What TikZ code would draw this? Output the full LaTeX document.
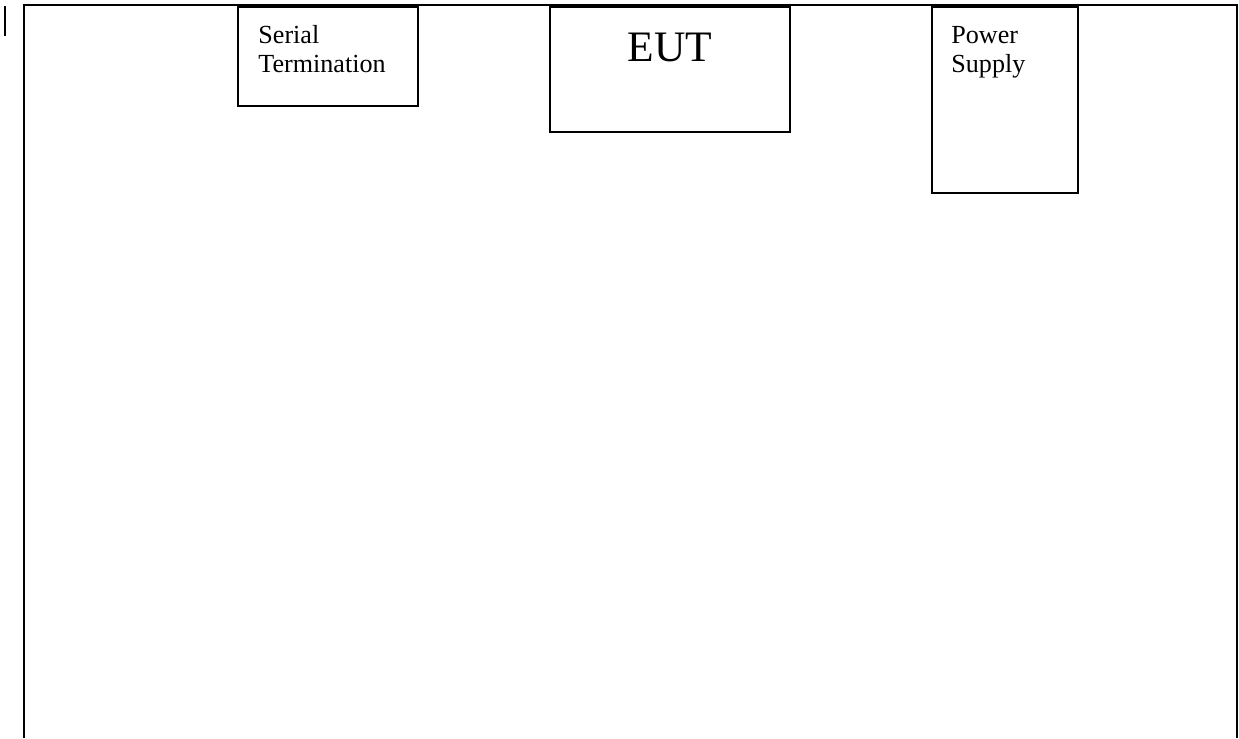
\documentclass[tikz,border=0pt]{standalone}
\usepackage{fontspec}
\setmainfont{Liberation Serif}
\usepackage{tikz}

\begin{document}
\begin{tikzpicture}[
x=0.46pt, y=-0.46pt,
frame/.style={line width=1.2pt},
unit/.style={line width=0.9pt},
smalltext/.style={font=\fontsize{12}{13.4}\selectfont, align=left, inner sep=0pt, anchor=north west},
bigtext/.style={font=\fontsize{20}{22}\selectfont, inner sep=0pt, anchor=base}
]
    % Page area
    \useasboundingbox (0,0) rectangle (1239,738);
    \draw[frame] (24,738) -- (24,5) -- (1237,5) -- (1237,738);
    \draw[line width=0.9pt] (5,6) -- (5,36);

    \draw
    (238,7) coordinate (S1)
    (418,106) coordinate (S2)
    (550,7) coordinate (E1)
    (790,132) coordinate (E2)
    (932,7) coordinate (P1)
    (1078,193) coordinate (P2);

    % Units
    \draw[unit] (S1) rectangle (S2);
    \draw[unit] (E1) rectangle (E2);
    \draw[unit] (P1) rectangle (P2);

    \node[smalltext] (sertext) at ([shift={(20,18)}]S1) {Serial\\Termination};
    \node[bigtext] (euttext) at (670,61) {EUT};
    \node[smalltext] (pwrtext) at ([shift={(19,19)}]P1) {Power\\Supply};
\end{tikzpicture}
\end{document}
